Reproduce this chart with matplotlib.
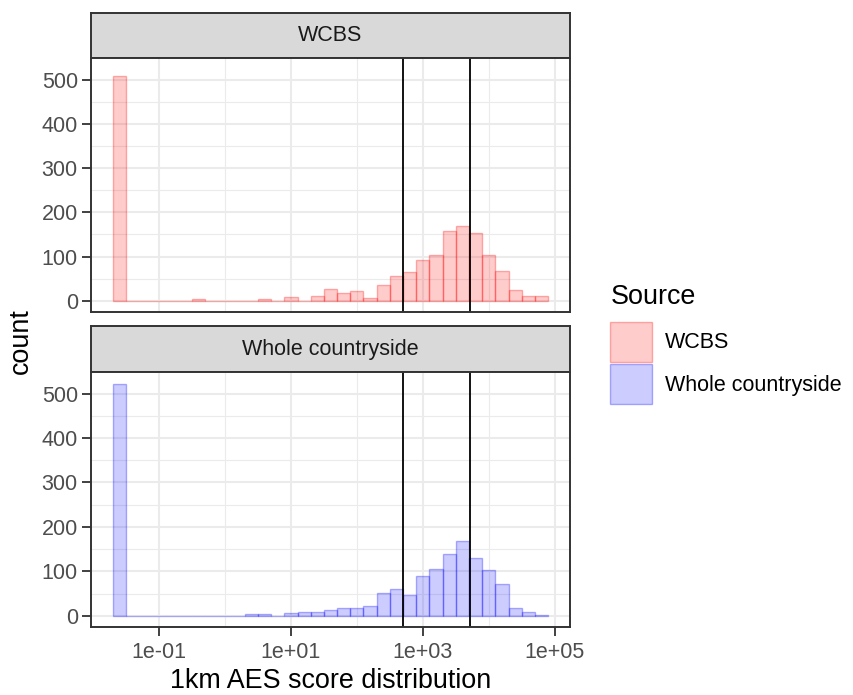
import matplotlib
matplotlib.use("Agg")
import matplotlib.pyplot as plt
from matplotlib.patches import Rectangle
from matplotlib.ticker import FixedLocator, NullFormatter
import numpy as np

plt.rcParams['font.family'] = ['Liberation Sans', 'DejaVu Sans']

W, H = 854, 695

# histogram bins: centres on the log10 scale, binwidth 0.2
bin_centres = [-1.6, -1.4, -1.2, -1.0, -0.8, -0.6, -0.4, -0.2, 0.0, 0.2, 0.4,
               0.6, 0.8, 1.0, 1.2, 1.4, 1.6, 1.8, 2.0, 2.2, 2.4, 2.6, 2.8,
               3.0, 3.2, 3.4, 3.6, 3.8, 4.0, 4.2, 4.4, 4.6, 4.8]
bin_width = 0.2

wcbs_counts = [509, 0, 0, 0, 0, 0, 5, 0, 0, 0, 0,
               5, 0, 9, 0, 10, 27, 18, 22, 6, 35, 56, 64,
               93, 104, 158, 170, 154, 104, 67, 25, 10, 10]
whole_counts = [522, 0, 0, 0, 0, 0, 0, 0, 0, 0, 4,
                4, 0, 5, 9, 9, 13, 17, 17, 21, 51, 60, 46,
                89, 105, 139, 168, 130, 102, 71, 17, 9, 1]

sources = ["WCBS", "Whole countryside"]
source_colours = ["red", "blue"]
cutoffs = [505, 5160]

x_breaks = [1e-1, 1e1, 1e3, 1e5]
x_labels = ["1e-01", "1e+01", "1e+03", "1e+05"]
x_minor = [1e0, 1e2, 1e4]
y_breaks = [0, 100, 200, 300, 400, 500]
y_minor = [50, 150, 250, 350, 450]

GREY20 = "#333333"
GREY30 = "#4D4D4D"
GRID = "#EBEBEB"


def px_box(l, t, r, b):
    return [l / W, 1 - b / H, (r - l) / W, (b - t) / H]


fig = plt.figure(figsize=(W / 100, H / 100), dpi=100)

edges_lo = 10 ** (np.array(bin_centres) - bin_width / 2)
edges_hi = 10 ** (np.array(bin_centres) + bin_width / 2)
lo = bin_centres[0] - bin_width / 2
hi = bin_centres[-1] + bin_width / 2
pad = (hi - lo) * 0.05
xlim = (10 ** (lo - pad), 10 ** (hi + pad))
ymax = max(max(wcbs_counts), max(whole_counts))
ylim = (-0.05 * ymax, 1.05 * ymax)

panels = [
    (wcbs_counts, (91, 13.3, 570, 58.3), (91, 58.3, 570, 312.3)),
    (whole_counts, (91, 325.7, 570, 372.3), (91, 372.3, 570, 627.3)),
]

for i, (counts, strip_px, panel_px) in enumerate(panels):
    colour = source_colours[i]

    # facet strip
    sax = fig.add_axes(px_box(*strip_px))
    sax.set_facecolor("#D9D9D9")
    sax.set_xticks([])
    sax.set_yticks([])
    for s in sax.spines.values():
        s.set_color(GREY20)
        s.set_linewidth(1.4)
    sax.text(0.5, 0.5, sources[i], ha="center", va="center",
             fontsize=15.5, color="#1A1A1A", transform=sax.transAxes)

    ax = fig.add_axes(px_box(*panel_px))
    ax.set_xscale("log")
    ax.set_xlim(*xlim)
    ax.set_ylim(*ylim)
    ax.bar(edges_lo, counts, width=edges_hi - edges_lo, align="edge",
           facecolor=matplotlib.colors.to_rgba(colour, 0.2),
           edgecolor=matplotlib.colors.to_rgba(colour, 0.3),
           linewidth=1.0, zorder=2)
    for v in cutoffs:
        ax.axvline(v, color="black", linewidth=1.3, zorder=3)

    ax.xaxis.set_major_locator(FixedLocator(x_breaks))
    ax.xaxis.set_minor_locator(FixedLocator(x_minor))
    ax.xaxis.set_minor_formatter(NullFormatter())
    ax.set_yticks(y_breaks)
    ax.set_yticks(y_minor, minor=True)
    ax.grid(which="major", color=GRID, linewidth=1.5, zorder=0)
    ax.grid(which="minor", color=GRID, linewidth=0.8, zorder=0)
    ax.set_axisbelow(True)

    ax.tick_params(which="minor", length=0)
    ax.tick_params(axis="y", which="major", length=6.5, width=1.3,
                   color=GREY20, labelsize=15.5, labelcolor=GREY30, pad=3)
    if i == 0:
        ax.tick_params(axis="x", which="major", length=0, labelbottom=False)
    else:
        ax.set_xticklabels(x_labels)
        ax.tick_params(axis="x", which="major", length=6.5, width=1.3,
                       color=GREY20, labelsize=15.5, labelcolor=GREY30, pad=4)
    for s in ax.spines.values():
        s.set_color(GREY20)
        s.set_linewidth(1.4)
        s.set_zorder(4)

# axis titles
fig.text(330.5 / W, 1 - 681 / H, "1km AES score distribution",
         ha="center", va="center", fontsize=19.4, color="black")
fig.text(21 / W, 1 - 341 / H, "count", ha="center", va="center",
         rotation=90, fontsize=19.4, color="black")

# legend
fig.text(611 / W, 1 - 296.7 / H, "Source", ha="left", va="center",
         fontsize=19.4, color="black")
key_tops = [321.7, 364.3]
for k, name in enumerate(sources):
    c = source_colours[k]
    fig.add_artist(Rectangle((610 / W, 1 - (key_tops[k] + 40) / H),
                             41.7 / W, 40 / H, transform=fig.transFigure,
                             facecolor=matplotlib.colors.to_rgba(c, 0.2),
                             edgecolor=matplotlib.colors.to_rgba(c, 0.3),
                             linewidth=1.0))
    fig.text(665 / W, 1 - (key_tops[k] + 21) / H, name, ha="left",
             va="center", fontsize=15.5, color="black")

fig.savefig("out.png", dpi=100)
